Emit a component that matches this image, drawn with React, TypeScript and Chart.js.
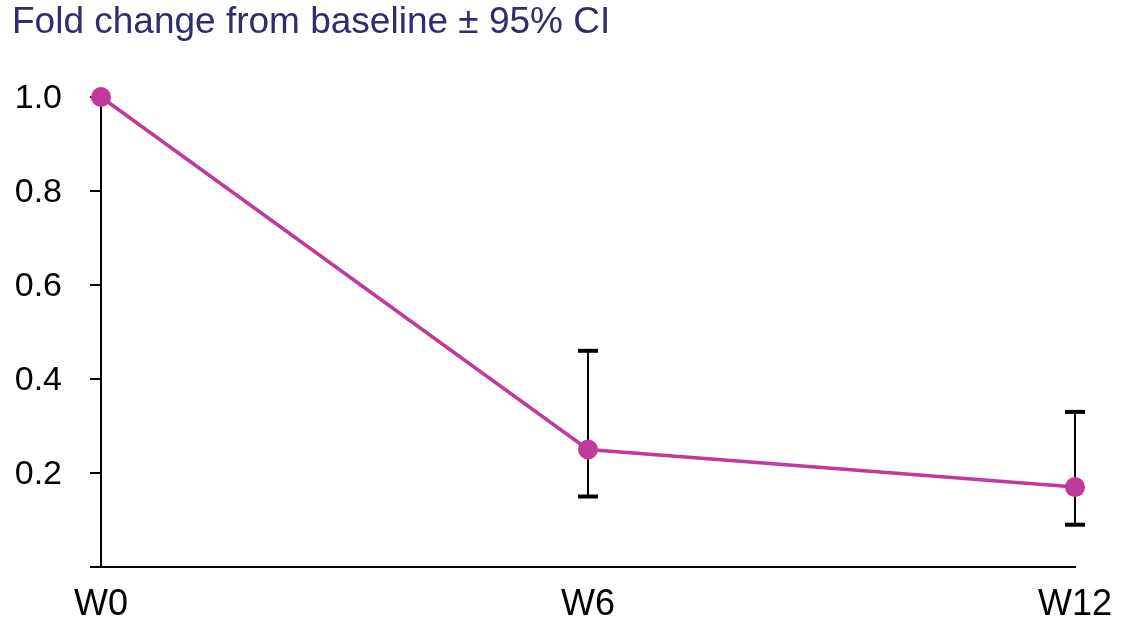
import React, { useEffect, useRef } from "react";
import { Chart, registerables } from "chart.js";

Chart.register(...registerables);

const categories = ["W0", "W6", "W12"];
const foldChange = [1.0, 0.25, 0.17];
const ciLower = [null, 0.15, 0.09];
const ciUpper = [null, 0.46, 0.33];
const yTicks = [0, 0.2, 0.4, 0.6, 0.8, 1.0];

const titleText = "Fold change from baseline ± 95% CI";
const FONT = "'Liberation Sans', Arial, sans-serif";
const MAGENTA = "#c0399b";

const errorBarPlugin = {
  id: "errorBars",
  beforeDatasetsDraw(chart: any) {
    const { ctx, scales } = chart;
    const xs = scales.x;
    const ys = scales.y;
    ctx.save();
    ctx.strokeStyle = "#000";
    ctx.fillStyle = "#000";
    for (let i = 0; i < categories.length; i++) {
      const lo = ciLower[i];
      const hi = ciUpper[i];
      if (lo == null || hi == null) continue;
      const x = xs.getPixelForValue(i);
      const yl = ys.getPixelForValue(lo);
      const yh = ys.getPixelForValue(hi);
      ctx.lineWidth = 2;
      ctx.beginPath();
      ctx.moveTo(x, yl);
      ctx.lineTo(x, yh);
      ctx.stroke();
      ctx.fillRect(x - 10, yh - 2, 20, 4);
      ctx.fillRect(x - 10, yl - 2, 20, 4);
    }
    ctx.restore();
  },
};

export default function App() {
  const ref = useRef<HTMLCanvasElement | null>(null);
  useEffect(() => {
    if (!ref.current) return;
    const chart = new Chart(ref.current, {
      type: "line",
      data: {
        labels: categories,
        datasets: [
          {
            data: foldChange,
            borderColor: MAGENTA,
            backgroundColor: MAGENTA,
            borderWidth: 3.5,
            pointRadius: 10,
            pointBackgroundColor: MAGENTA,
            pointBorderWidth: 0,
            tension: 0,
            clip: false as any,
          },
        ],
      },
      options: {
        animation: false,
        responsive: true,
        maintainAspectRatio: false,
        layout: { padding: { top: 0, left: 12, right: 52, bottom: 0 } },
        plugins: {
          legend: { display: false },
          tooltip: { enabled: false },
          title: {
            display: true,
            text: titleText,
            align: "start",
            color: "#2e2d6e",
            font: { family: FONT, size: 37, weight: "normal", lineHeight: 1.2 },
            padding: { top: 1, bottom: 51.6 },
          },
        },
        scales: {
          x: {
            type: "category",
            offset: false,
            grid: { display: false },
            border: { display: true, color: "#000", width: 2 },
            ticks: {
              color: "#000",
              font: { family: FONT, size: 36 },
              padding: 8,
              maxRotation: 0,
            },
            afterFit(scale: any) {
              scale.height = 60;
            },
          },
          y: {
            type: "linear",
            min: 0,
            max: 1,
            afterBuildTicks(scale: any) {
              scale.ticks = yTicks.map((v) => ({ value: v }));
            },
            grid: {
              drawOnChartArea: false,
              drawTicks: true,
              tickLength: 11,
              color: "#000",
              lineWidth: 2,
            },
            border: { display: true, color: "#000", width: 2 },
            ticks: {
              color: "#000",
              font: { family: FONT, size: 34 },
              padding: 28,
              labelOffset: 2,
              callback: (v: any) => (Number(v) === 0 ? "" : Number(v).toFixed(1)),
            },
            afterFit(scale: any) {
              scale.width = 89;
            },
          },
        },
      },
      plugins: [errorBarPlugin],
    });
    return () => chart.destroy();
  }, []);
  return (
    <div style={{ position: "absolute", left: 0, top: 0, width: 1127, height: 627 }}>
      <canvas ref={ref} />
    </div>
  );
}
